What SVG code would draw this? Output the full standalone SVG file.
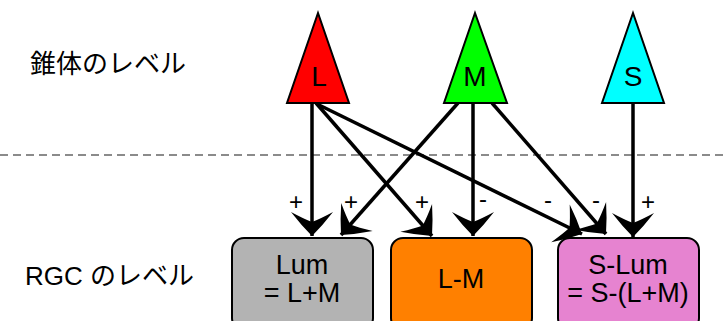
<svg xmlns="http://www.w3.org/2000/svg" width="723" height="321" viewBox="0 0 723 321">
<style>
.cone{stroke:#000;stroke-width:2;stroke-linejoin:miter}
.box{stroke:#000;stroke-width:2}
.t{font-family:"Liberation Sans",Arial,sans-serif;font-size:27px;fill:#000;text-anchor:middle}
.ct{font-size:28px}
.lab{font-family:"Liberation Sans","Noto Sans CJK JP",sans-serif;font-size:26px;fill:#000}
.sg{font-family:"Liberation Sans",Arial,sans-serif;font-size:24px;fill:#000;text-anchor:middle}
.e{fill:none;stroke:#000;stroke-width:3.5;marker-end:url(#vee)}
</style>
<defs>
<marker id="vee" markerUnits="userSpaceOnUse" markerWidth="40" markerHeight="50" viewBox="-30 -25 40 50" refX="0" refY="0" orient="auto" overflow="visible">
<path d="M0,0 Q-11,-11 -24,-21 Q-17,-8 -14,0 Q-17,8 -24,21 Q-11,11 0,0 Z" fill="#000"/>
</marker>
</defs>
<line x1="0" y1="155" x2="723" y2="155" stroke="#666" stroke-width="1.5" stroke-dasharray="8,5"/>
<text class="lab" x="30" y="73" font-size="27">錐体のレベル</text>
<text class="lab" x="25" y="285">RGC のレベル</text>
<g id="edges">
<path class="e" d="M312,103 L312,236"/>
<path class="e" d="M458,103 L341,235"/>
<path class="e" d="M316,103 L432,236"/>
<path class="e" d="M473,103 L473,236"/>
<path class="e" d="M317,104 L582,234"/>
<path class="e" d="M492,103 L606,234"/>
<path class="e" d="M633,103 L633,237"/>
<text class="sg" x="296" y="210">+</text>
<text class="sg" x="351" y="210">+</text>
<text class="sg" x="422" y="210">+</text>
<text class="sg" x="483" y="207">-</text>
<text class="sg" x="548" y="208">-</text>
<text class="sg" x="596" y="208">-</text>
<text class="sg" x="648" y="210">+</text>
</g>
<g id="coneL">
<polygon class="cone" points="318,13 349,103 287,103" fill="#ff0000"/>
<text class="t ct" x="319" y="86">L</text>
</g>
<g id="coneM">
<polygon class="cone" points="475,13 507,103 444,103" fill="#00ff00"/>
<text class="t ct" x="475" y="86">M</text>
</g>
<g id="coneS">
<polygon class="cone" points="633,13 664,103 602,103" fill="#00ffff"/>
<text class="t ct" x="633" y="86">S</text>
</g>
<g id="lum">
<rect class="box" x="232" y="238" width="141" height="92" rx="12" fill="#b3b3b3"/>
<text class="t" x="302" y="274">Lum</text>
<text class="t" x="302" y="302">= L+M</text>
</g>
<g id="lm">
<rect class="box" x="391" y="238" width="141" height="92" rx="12" fill="#ff8000"/>
<text class="t" x="461" y="288">L-M</text>
</g>
<g id="slum">
<rect class="box" x="558" y="238" width="141" height="92" rx="12" fill="#e683d0"/>
<text class="t" x="628" y="274">S-Lum</text>
<text class="t" x="628" y="302">= S-(L+M)</text>
</g>
</svg>
